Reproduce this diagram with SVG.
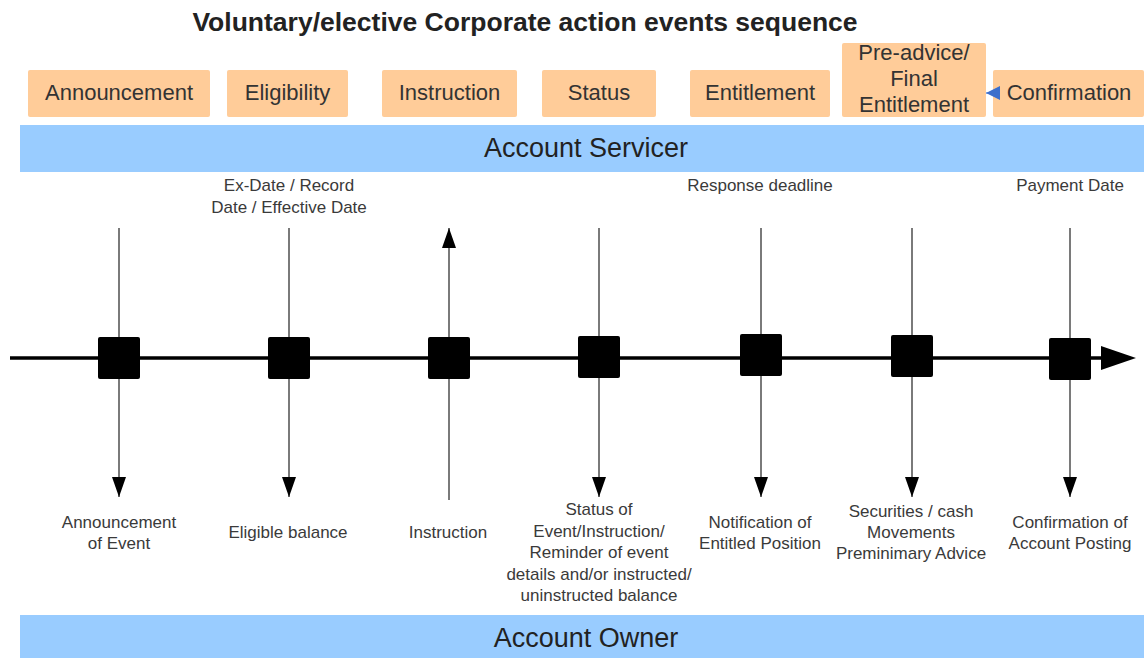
<svg xmlns="http://www.w3.org/2000/svg" width="1144" height="658" viewBox="0 0 1144 658">
<defs>
<style>
.box{fill:#FFCC99;}
.bar{fill:#99CCFF;}
.bt{font-family:"Liberation Sans",Arial,sans-serif;font-size:22px;fill:#333333;text-anchor:middle;}
.bar-t{font-family:"Liberation Sans",Arial,sans-serif;font-size:27px;fill:#222222;text-anchor:middle;}
.lbl{font-family:"Liberation Sans",Arial,sans-serif;font-size:17px;fill:#3a3a3a;text-anchor:middle;}
.title{font-family:"Liberation Sans",Arial,sans-serif;font-size:26.5px;font-weight:bold;fill:#222222;text-anchor:middle;}
.vl{stroke:#7a7a7a;stroke-width:2;fill:none;}
.sq{fill:#000000;}
</style>
<marker id="ad" markerWidth="20" markerHeight="14" refX="20" refY="7" orient="auto" markerUnits="userSpaceOnUse" viewBox="0 0 20 14">
<path d="M0,0 L20,7 L0,14 Z" fill="#000"/>
</marker>
<marker id="blue" markerWidth="14" markerHeight="14" refX="14" refY="7" orient="auto" markerUnits="userSpaceOnUse" viewBox="0 0 14 14">
<path d="M0,0 L14,7 L0,14 Z" fill="#3D6FCC"/>
</marker>
</defs>
<rect width="1144" height="658" fill="#ffffff"/>

<text class="title" x="525" y="31">Voluntary/elective Corporate action events sequence</text>

<g id="box-announcement"><rect class="box" x="28" y="70" width="182" height="47" rx="2"/><text class="bt" x="119" y="100">Announcement</text></g>
<g id="box-eligibility"><rect class="box" x="227" y="70" width="121" height="47" rx="2"/><text class="bt" x="287.5" y="100">Eligibility</text></g>
<g id="box-instruction"><rect class="box" x="382" y="70" width="135" height="47" rx="2"/><text class="bt" x="449.5" y="100">Instruction</text></g>
<g id="box-status"><rect class="box" x="542" y="70" width="114" height="47" rx="2"/><text class="bt" x="599" y="100">Status</text></g>
<g id="box-entitlement"><rect class="box" x="690" y="70" width="140" height="47" rx="2"/><text class="bt" x="760" y="100">Entitlement</text></g>
<g id="box-preadvice"><rect class="box" x="842" y="43" width="144" height="74" rx="2"/><text class="bt" x="914" y="60">Pre-advice/</text><text class="bt" x="914" y="86">Final</text><text class="bt" x="914" y="112">Entitlement</text></g>
<g id="box-confirmation"><rect class="box" x="993" y="70" width="151" height="47" rx="2"/><text class="bt" x="1069" y="100">Confirmation</text></g>

<g id="bar-servicer"><rect class="bar" x="20" y="125" width="1124" height="47"/><text class="bar-t" x="586" y="157">Account Servicer</text></g>
<g id="bar-owner"><rect class="bar" x="20" y="615" width="1124" height="43"/><text class="bar-t" x="586" y="647">Account Owner</text></g>

<g id="connectors">
<path d="M1000,93 L986,93" stroke="#3D6FCC" stroke-width="1" marker-end="url(#blue)" fill="none"/>
<line x1="10" y1="358" x2="1104" y2="358" stroke="#000" stroke-width="3.5"/>
<path d="M1101,346 L1136,358 L1101,370 Z" fill="#000"/>
<line class="vl" x1="119" y1="228" x2="119" y2="497" marker-end="url(#ad)"/>
<line class="vl" x1="289" y1="228" x2="289" y2="497" marker-end="url(#ad)"/>
<line class="vl" x1="449" y1="500" x2="449" y2="228" marker-end="url(#ad)"/>
<line class="vl" x1="599" y1="228" x2="599" y2="497" marker-end="url(#ad)"/>
<line class="vl" x1="761" y1="228" x2="761" y2="497" marker-end="url(#ad)"/>
<line class="vl" x1="912" y1="228" x2="912" y2="497" marker-end="url(#ad)"/>
<line class="vl" x1="1070" y1="228" x2="1070" y2="497" marker-end="url(#ad)"/>
</g>

<g id="ev-announcement"><rect class="sq" x="98" y="337" width="42" height="42" rx="2"/>
<text class="lbl" x="119" y="528">Announcement</text><text class="lbl" x="119" y="549">of Event</text></g>
<g id="ev-eligibility"><rect class="sq" x="268" y="337" width="42" height="42" rx="2"/>
<text class="lbl" x="289" y="191">Ex-Date / Record</text><text class="lbl" x="289" y="213">Date / Effective Date</text>
<text class="lbl" x="288" y="538">Eligible balance</text></g>
<g id="ev-instruction"><rect class="sq" x="428" y="337" width="42" height="42" rx="2"/>
<text class="lbl" x="448" y="538">Instruction</text></g>
<g id="ev-status"><rect class="sq" x="578" y="336" width="42" height="42" rx="2"/>
<text class="lbl" x="599" y="515">Status of</text><text class="lbl" x="599" y="537">Event/Instruction/</text><text class="lbl" x="599" y="558">Reminder of event</text><text class="lbl" x="599" y="580">details and/or instructed/</text><text class="lbl" x="599" y="601">uninstructed balance</text></g>
<g id="ev-entitlement"><rect class="sq" x="740" y="334" width="42" height="42" rx="2"/>
<text class="lbl" x="760" y="191">Response deadline</text>
<text class="lbl" x="760" y="528">Notification of</text><text class="lbl" x="760" y="549">Entitled Position</text></g>
<g id="ev-preadvice"><rect class="sq" x="891" y="335" width="42" height="42" rx="2"/>
<text class="lbl" x="911" y="517">Securities / cash</text><text class="lbl" x="911" y="538">Movements</text><text class="lbl" x="911" y="559">Preminimary Advice</text></g>
<g id="ev-confirmation"><rect class="sq" x="1049" y="338" width="42" height="42" rx="2"/>
<text class="lbl" x="1070" y="191">Payment Date</text>
<text class="lbl" x="1070" y="528">Confirmation of</text><text class="lbl" x="1070" y="549">Account Posting</text></g>
</svg>
